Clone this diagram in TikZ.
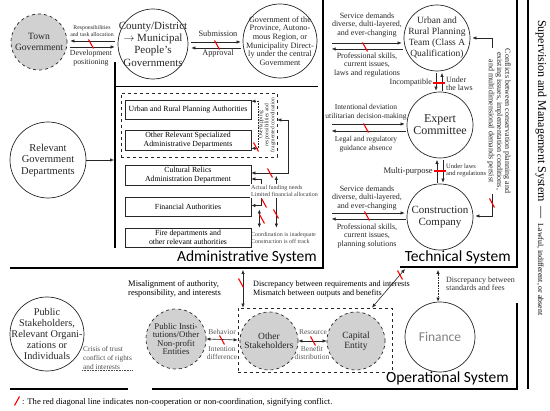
\documentclass[tikz,border=0pt]{standalone}
\usepackage{fontspec}
\setmainfont{Liberation Serif}
\newfontfamily\sysfont{Carlito}
\usetikzlibrary{arrows.meta, positioning, calc}

\newcommand{\fsz}[2]{\fontsize{#1}{#2}\selectfont}

\begin{document}
\begin{tikzpicture}[
  x=1pt, y=-1pt,
  every node/.style={inner sep=1pt},
  sysline/.style={line width=2.4pt},
  party/.style={circle, draw=black!85, line width=0.7pt, inner sep=0pt},
  actor/.style={party, dashed, fill=black!18},
  dept/.style={draw=black!85, line width=0.7pt, minimum width=126pt, minimum height=19pt, align=center, inner sep=0pt, font=\fsz{7.8}{9}},
  group/.style={draw=black!85, dashed, line width=0.7pt},
  arr/.style={-{Latex[length=4pt,width=3.4pt]}, line width=0.6pt, draw=black!85},
  twoway/.style={{Latex[length=4pt,width=3.4pt]}-{Latex[length=4pt,width=3.4pt]}, line width=0.6pt, draw=black!85},
  lbl/.style={align=center, text=black!85},
  note/.style={align=left, text=black!75, font=\fsz{6}{6.8}},
  sysname/.style={font=\sysfont\fsz{15.5}{16}, anchor=base east},
  clash/.pic={\draw[red, line width=1.1pt] (-2.5,-4.5) -- (2.5,4.5);},
  flatclash/.pic={\draw[red, line width=1.1pt] (-6,0) -- (6,0);}
]
\useasboundingbox (0,0) rectangle (550,411);

% --- system borders
\coordinate (admtop) at (115,62);
\coordinate (admfoot) at (115,248);
\draw[sysline] (admtop) -- (admfoot);
\draw[line width=0.7pt] (115,86) -- (318,86);
\draw[sysline] (323,0) -- (323,268) -- (10,268);
\draw[sysline] (517,0) -- (517,267) -- (400,267);
\draw[sysline] (517,303) -- (517,389) -- (152,389);
\draw[sysline] (10,389) -- (128,389);
\draw[sysline] (528,0) -- (528,389);

\node[sysname] (admname) at (318,262) {Administrative System};
\node[sysname] (techname) at (512,262) {Technical System};
\node[sysname] (opsname) at (510,383) {Operational System};

% --- administrative system
\node[actor, minimum size=56pt, label={[lbl, font=\fsz{9.6}{10.5}]center:{Town\\Government}}] (town) at (39,42) {};
\node[party, minimum size=70pt, label={[lbl, font=\fsz{11}{12.3}]center:{County/District\\$\rightarrow$ Municipal\\People's\\Governments}}] (county) at (153,44) {};
\node[party, minimum size=74pt, label={[lbl, font=\fsz{8.2}{8.6}]center:{Government of the\\Province, Autono-\\mous Region, or\\Municipality Direct-\\ly under the central\\Government}}] (prov) at (280,41) {};
\node[party, minimum size=76pt, label={[lbl, font=\fsz{10.5}{11.5}]center:{Relevant\\Government\\Departments}}] (reldep) at (48,160) {};

\draw[arr] ([xshift=-3pt,yshift=3pt]county.west) -- ([xshift=3pt,yshift=1pt]town.east);
\draw[arr] ([xshift=3pt,yshift=-5pt]town.east) -- ([xshift=-3pt,yshift=-3pt]county.west);
\pic at (91,44) {clash};
\node[lbl, font=\fsz{5.8}{6.3}] (tasks) at (92,31) {Responsibilities\\and task allocation};
\node[lbl, font=\fsz{7.8}{8.6}] (develop) at (91,58) {Development\\positioning};

\draw[arr] ([xshift=3pt,yshift=2pt]county.east) -- ([xshift=-2pt,yshift=-1pt]prov.west);
\draw[arr] ([xshift=-2pt,yshift=-7pt]prov.west) -- ([xshift=3pt,yshift=-4pt]county.east);
\pic at (217,45) {clash};
\node[lbl, font=\fsz{8.3}{9}] (submit) at (218,34) {Submission};
\node[lbl, font=\fsz{8.3}{9}] (approve) at (218,54) {Approval};

\draw[arr, shorten >=1pt] (reldep.east) -- (reldep.east -| admtop);

\node[dept] (urbanauth) at (188,110) {Urban and Rural Planning Authorities};
\node[dept, minimum height=20pt] (otherdep) at (188,140) {Other Relevant Specialized\\Administrative Departments};
\node[dept, minimum height=20pt] (relics) at (188,175) {Cultural Relics\\Administration Department};
\node[dept] (finauth) at (188,206.5) {Financial Authorities};
\node[dept] (fire) at (188,237.5) {Fire departments and\\other relevant authorities};
\node[group, minimum width=156pt, minimum height=64pt] (plangroup) at (199,125) {};
\node[rotate=90, lbl, font=\fsz{5.5}{6}] (overlap) at (267,125) {Overlapping\\responsibilities and\\fragmented coordination};

\draw[twoway, densely dotted] ([yshift=-1pt]urbanauth.north east) -- ++(7,0) |- ([yshift=2pt]otherdep.south east);
\pic at (256,147) {clash};
\draw[twoway] ([yshift=5pt]plangroup.east) -- ++(11,0) |- ([yshift=2pt]relics.east);
\pic at (270,173) {clash};
\draw[twoway] ([yshift=-4pt]relics.east) -- ++(10,0) |- ([yshift=1pt]finauth.east);
\draw[twoway] ([xshift=8pt,yshift=-3pt]finauth.east) -- ([xshift=8pt]finauth.east |- fire.north);
\draw[twoway] ([xshift=25pt,yshift=-1pt]relics.east) -- ([xshift=25pt]relics.east |- fire.north);
\node[note, fill=white, anchor=west] (funding) at (250,191) {Actual funding needs\\Limited financial allocation};
\pic at (264,203) {clash};
\pic at (262,219) {clash};
\pic at (276,214) {clash};
\node[note, anchor=west] (coord) at (250,238) {Coordination is inadequate\\Construction is off track};

% --- technical system
\node[party, minimum size=66pt, label={[lbl, font=\fsz{9.5}{11}]center:{Urban and\\Rural Planning\\Team (Class A\\Qualification)}}] (team) at (437,38) {};
\node[party, minimum size=66pt, label={[lbl, font=\fsz{12}{12}]center:{Expert\\Committee}}] (expert) at (440,125) {};
\node[party, minimum size=66pt, label={[lbl, font=\fsz{11}{12}]center:{Construction\\Company}}] (constr) at (440,217) {};

\draw[arr] ([xshift=-72pt,yshift=-5pt]team.west) -- ([xshift=-2pt,yshift=-5pt]team.west);
\draw[arr] ([xshift=-1pt,yshift=-11pt]team.west) -- ([xshift=-72pt,yshift=-11pt]team.west);
\pic at (365,47) {clash};
\node[lbl, font=\fsz{8}{8.6}] (teamneed) at (367,25) {Service demands\\diverse, dulti-layered,\\and ever-changing};
\node[lbl, font=\fsz{8}{8.6}] (teamskill) at (367,65) {Professional skills,\\current issues,\\laws and regulations};

\draw[arr] ([xshift=-75pt,yshift=1pt]expert.west) -- ([xshift=-2pt,yshift=1pt]expert.west);
\draw[arr] ([xshift=-1pt,yshift=-6pt]expert.west) -- ([xshift=-75pt,yshift=-6pt]expert.west);
\pic at (366,128) {clash};
\node[lbl, font=\fsz{7.5}{8.6}] (deviate) at (366,112) {Intentional deviation\\utilitarian decision-making};
\node[lbl, font=\fsz{7.5}{8.6}] (absence) at (366,144) {Legal and regulatory\\guidance absence};

\draw[arr] ([xshift=-75pt,yshift=4pt]constr.west) -- ([xshift=-2pt,yshift=4pt]constr.west);
\draw[arr] ([xshift=-1pt,yshift=-2pt]constr.west) -- ([xshift=-75pt,yshift=-2pt]constr.west);
\pic at (367,216) {clash};
\node[lbl, font=\fsz{8}{8.6}] (constrneed) at (367,198) {Service demands\\diverse, dulti-layered,\\and ever-changing};
\node[lbl, font=\fsz{8}{8.6}] (constrskill) at (367,236) {Professional skills,\\current issues,\\planning solutions};

\draw[arr, shorten >=1.5pt, shorten <=1pt] ([xshift=2pt]expert.north) -- ([xshift=2pt]expert.north |- team.south);
\draw[arr, shorten >=1pt, shorten <=1.5pt] ([xshift=-4pt]expert.north |- team.south) -- ([xshift=-4pt]expert.north);
\pic at (439,83) {flatclash};
\node[font=\fsz{8}{8}, anchor=east, text=black!85] (incompat) at (433,83) {Incompatible};
\node[font=\fsz{8}{8}, align=left, anchor=west, text=black!85] (underlaw) at (445,84) {Under\\the laws};

\draw[arr, shorten >=1.5pt, shorten <=1pt] ([xshift=-3pt]constr.north) -- ([xshift=-3pt]constr.north |- expert.south);
\draw[arr, shorten >=1pt, shorten <=1.5pt] ([xshift=3pt]constr.north |- expert.south) -- ([xshift=3pt]constr.north);
\pic at (440,171) {flatclash};
\node[font=\fsz{8.6}{9}, anchor=east, text=black!85] (multi) at (434,171) {Multi-purpose};
\node[font=\fsz{6.5}{7}, align=left, anchor=west, text=black!85] (underreg) at (445,170) {Under laws\\and regulations};

\draw[twoway] ([xshift=2pt]team.east) -- ++(20,0) |- ([xshift=2pt,yshift=1pt]constr.east);
\node[rotate=-90, lbl, fill=white, font=\fsz{8}{8.2}, inner sep=0.5pt] (conflictnote) at (499,121) {Conflicts between conservation planning and\\existing issues, implementation conditions,\\and multidimensional demands persist};
\pic at (492,203) {clash};

% --- supervision
\node[rotate=-90, anchor=west, font=\fsz{12}{13}] (supervision) at (541,19) {Supervision and Management System \,—\, {\fsz{7.8}{9}Lawful, indifferent, or absent}};

% --- operational system
\node[group, minimum width=154pt, minimum height=64pt] (opsframe) at (315,340) {};
\node[party, minimum size=74pt, label={[lbl, font=\fsz{10.3}{11}]center:{Public\\Stakeholders,\\Relevant Organi-\\zations or\\Individuals}}] (public) at (47,334) {};
\node[actor, minimum size=60pt, label={[lbl, font=\fsz{8.8}{8.2}]center:{Public Insti-\\tutions/Other\\Non-profit\\Entities}}] (inst) at (176,339) {};
\node[actor, minimum size=58pt, label={[lbl, font=\fsz{9.5}{9.5}]center:{Other\\Stakeholders}}] (others) at (269,341) {};
\node[actor, minimum size=58pt, label={[lbl, font=\fsz{9.5}{10}]center:{Capital\\Entity}}] (capital) at (356,341) {};
\node[party, minimum size=70pt, label={[font=\sysfont\fsz{13.5}{14}, text=black!50]center:Finance}] (finance) at (440,337) {};

\node[anchor=west, align=left, font=\fsz{7.3}{8.6}, text=black!70] (crisis) at (82,358) {Crisis of trust\\conflict of rights\\and interests};
\draw[densely dotted, line width=0.6pt, black!70] (crisis.south west) -- (crisis.south east);

\draw[twoway] (inst.east) -- (opsframe.west);
\pic at (222,340) {clash};
\node[lbl, font=\fsz{7.5}{8}, text=black!65] (behavior) at (222,332) {Behavior};
\node[lbl, font=\fsz{7.5}{8}, text=black!65] (intention) at (222,353) {Intention\\difference};

\draw[twoway] (others.east) -- (capital.west);
\pic at (313,341) {clash};
\node[lbl, font=\fsz{7.5}{8}, text=black!65] (resource) at (313,332) {Resource};
\node[lbl, font=\fsz{7.5}{8}, text=black!65] (benefit) at (312,353) {Benefit\\distribution};

\coordinate (admbottom) at (243,270);
\draw[twoway] (admbottom) -- (admbottom |- opsframe.north);
\pic at (241,283) {clash};
\node[anchor=west, align=left, font=\fsz{8.5}{8.8}] (misalign) at (127,289) {Misalignment of authority,\\responsibility, and interests};

\coordinate (techcorner) at (405,269);
\draw[twoway] (techcorner) -- ([xshift=57pt]opsframe.north);
\pic at (400,275) {clash};
\node[anchor=west, align=left, font=\fsz{8.1}{8.5}] (mismatch) at (252,289) {Discrepancy between requirements and interests\\Mismatch between outputs and benefits};

\coordinate (techbottom) at (438,270);
\draw[twoway, densely dotted] (techbottom) -- (techbottom |- finance.north);
\node[anchor=west, align=left, font=\fsz{8}{8.4}, text=black!80] (stdfees) at (445,284) {Discrepancy between\\standards and fees};

% --- legend
\pic[xscale=-1] at (17,401) {clash};
\node[anchor=west, font=\fsz{8.6}{9}] (legend) at (21,402) {: The red diagonal line indicates non-cooperation or non-coordination, signifying conflict.};

\end{tikzpicture}
\end{document}
